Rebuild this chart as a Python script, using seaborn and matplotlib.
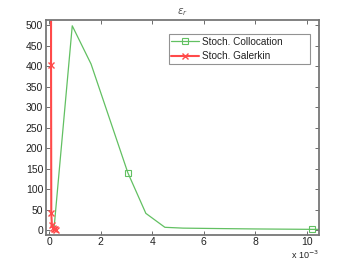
import matplotlib
matplotlib.use("Agg")
import matplotlib.pyplot as plt
import seaborn as sns
import pandas as pd
import numpy as np

# Data (x in units of 1e-3)
colloc_x = [0.18, 0.89, 1.62, 3.05, 3.75, 4.49, 5.2, 6.5, 8.0, 10.22, 10.5]
colloc_y = [3, 498, 405, 140, 41, 7, 5, 4, 3, 2, 2]
galerkin_x = [0.062, 0.066, 0.075, 0.10, 0.13, 0.17, 0.22, 0.25]
galerkin_y = [3000, 403, 41, 12, 6, 3, 2, 1.5]
xticks = [0, 2, 4, 6, 8, 10]
yticks = list(range(0, 501, 50))

sns.set_theme(style="white")
plt.rcParams['font.family'] = ['Liberation Sans', 'DejaVu Sans']

fig = plt.figure(figsize=(3.52, 2.64), dpi=100)
ax = fig.add_axes([0.1307, 0.111, 0.7756, 0.813])

green = "#62c062"
red = "#ff4a4a"

dfc = pd.DataFrame({"x": colloc_x, "y": colloc_y})
dfg = pd.DataFrame({"x": galerkin_x, "y": galerkin_y})

sns.lineplot(data=dfc, x="x", y="y", ax=ax, sort=False, estimator=None,
             color=green, lw=0.9, linestyle="-", marker="s", markersize=4,
             markerfacecolor="none", markeredgecolor=green, markeredgewidth=0.8,
             markevery=[3, 9], label="Stoch. Collocation")
sns.lineplot(data=dfg, x="x", y="y", ax=ax, sort=False, estimator=None,
             color=red, lw=1.5, linestyle="-", marker="x", markersize=4,
             markeredgewidth=1.0, markeredgecolor=red, markerfacecolor=red,
             label="Stoch. Galerkin")

ax.set_xlim(-0.13, 10.48)
ax.set_ylim(-11, 512)
ax.set_xticks(xticks)
ax.set_yticks(yticks)
ax.set_xlabel("")
ax.set_ylabel("")
ax.tick_params(direction="in", length=3, width=0.6, colors="#555555",
               labelcolor="#222222", labelsize=7.5, top=True, right=True,
               bottom=True, left=True, pad=2)
for s in ax.spines.values():
    s.set_color("#777777")
    s.set_linewidth(1.3)

ax.set_title(r"$\varepsilon_r$", fontsize=7.5, color="#555555", pad=4)
ax.text(1.0, -0.065, r"x 10$^{-3}$", transform=ax.transAxes, ha="right", va="top",
        fontsize=6.5, color="#222222")

leg = ax.legend(loc="upper left", bbox_to_anchor=(0.4505, 0.925, 0.5165, 0.01),
                mode="expand", fontsize=7.2, frameon=True, fancybox=False,
                borderpad=0.25, handlelength=2.8, borderaxespad=0,
                labelspacing=0.45, handletextpad=0.3)
leg.get_frame().set_edgecolor("#777777")
leg.get_frame().set_linewidth(0.8)
for t in leg.get_texts():
    t.set_color("#222222")

fig.savefig("out.png", dpi=100)
